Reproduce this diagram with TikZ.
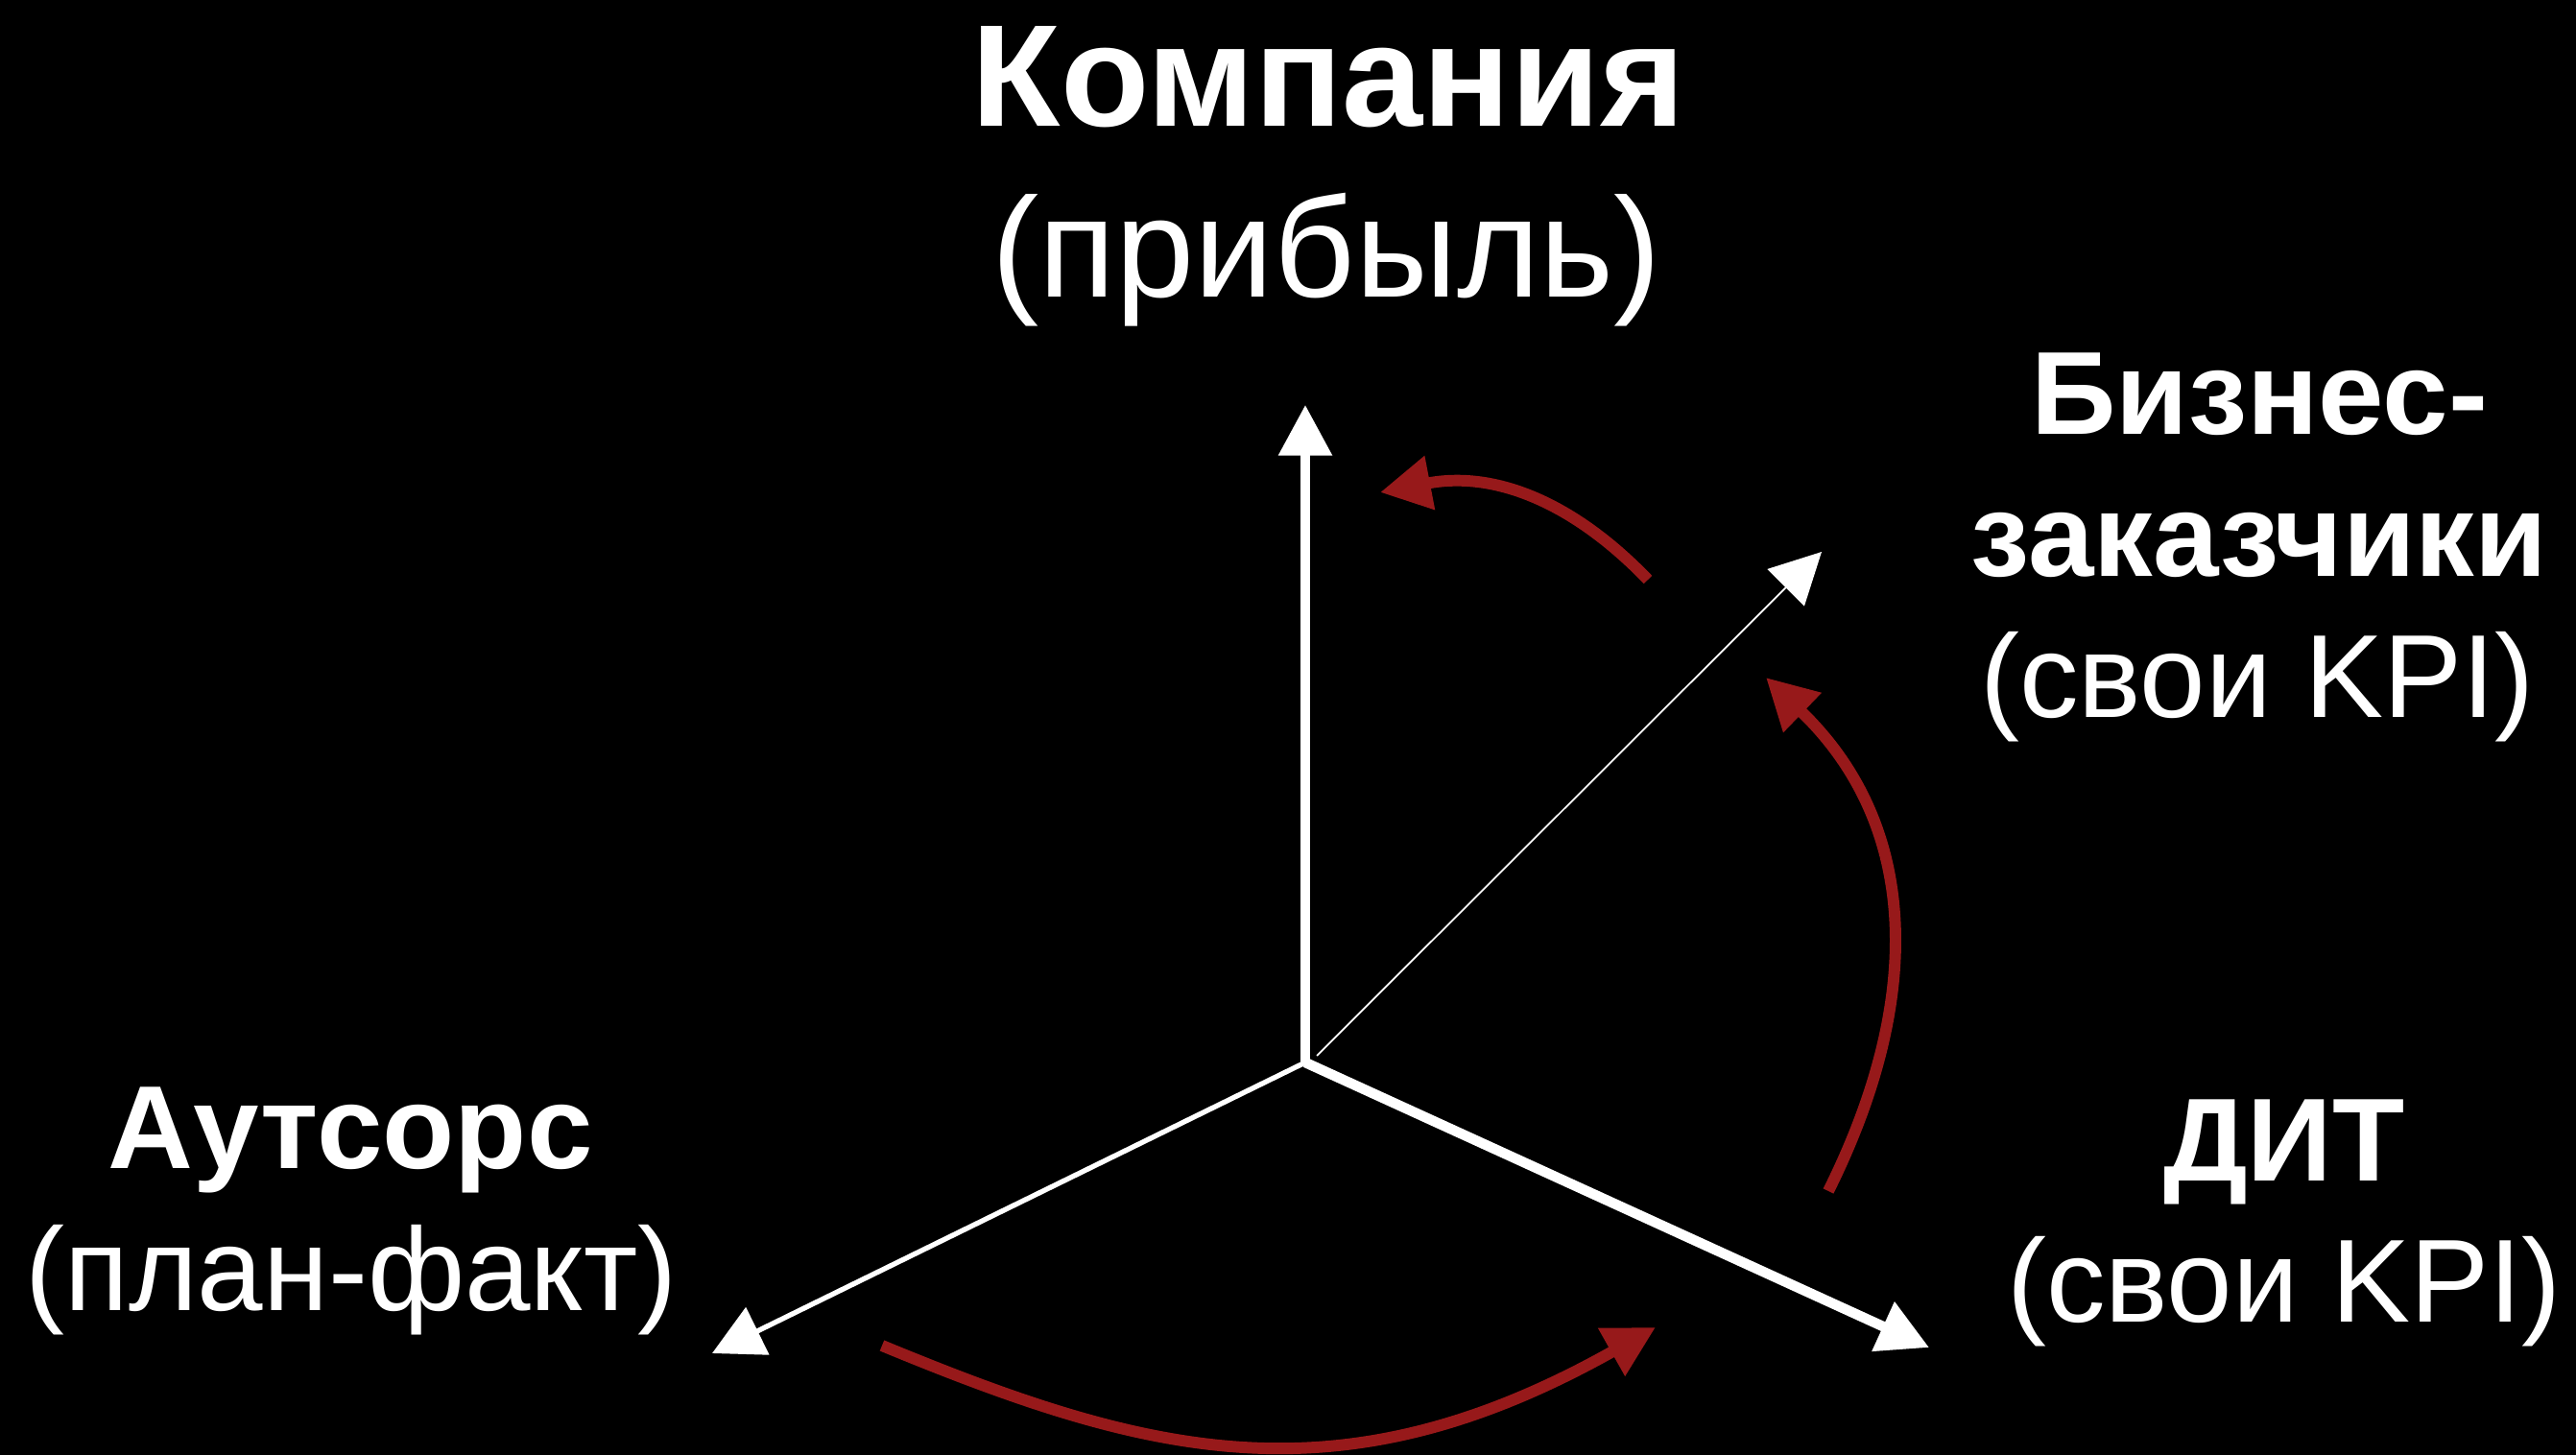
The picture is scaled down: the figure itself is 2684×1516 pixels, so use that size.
\documentclass[tikz,border=0pt]{standalone}
\usepackage{fontspec}
\setmainfont{Liberation Sans}
\usetikzlibrary{arrows.meta}
\definecolor{ArcRed}{RGB}{151, 25, 26}

\begin{document}
\begin{tikzpicture}[
    x=0.01cm, y=-0.01cm,
    >={Triangle[length=15pt, width=15.4pt]},
    head/.style={
        text=white, inner sep=0pt, align=center,
        font=\bfseries\fontsize{35}{42}\selectfont
    },
    bighead/.style={
        text=white, inner sep=0pt,
        font=\bfseries\fontsize{43}{50}\selectfont
    },
    note/.style={
        text=white, inner sep=0pt,
        font=\fontsize{35}{42}\selectfont
    },
    bignote/.style={
        text=white, inner sep=0pt,
        font=\fontsize{42}{50}\selectfont
    },
    axis/.style={->, white},
    turn/.style={->, ArcRed, line width=3.4pt},
]

%% Background
\useasboundingbox (0,0) rectangle (2684,1516);
\fill[black] (0,0) rectangle (2684,1516);

%% Labels
\node[bighead, anchor=base] (company) at (1384,132) {Компания};
\node[bignote, anchor=base] (profit) at (1382,310) {(прибыль)};

\node[head, anchor=south] (business) at (2354,602) {Бизнес-\\заказчики};
\node[note, anchor=base] (bizkpi) at (2352,748) {(свои KPI)};

\node[head, anchor=base] (outsource) at (365,1217) {Аутсорс};
\node[note, anchor=base] (planfact) at (366,1365) {(план-факт)};

\node[head, anchor=base] (dit) at (2380,1230) {ДИТ};
\node[note, anchor=base] (ditkpi) at (2380,1377) {(свои KPI)};

%% Axes
\coordinate (origin) at (1360,1107);
\coordinate (companytip) at (1360,422);
\coordinate (bizfoot) at (1372,1100);
\coordinate (biztip) at (1898,575);
\coordinate (outtip) at (742,1410);
\coordinate (dittip) at (2010,1404);

\draw[axis, line width=2.6pt] (origin) -- (companytip);
\draw[axis, line width=0.5pt] (bizfoot) -- (biztip);
\draw[axis, line width=1.5pt] (origin) -- (outtip);
\draw[axis, line width=3pt] (origin) -- (dittip);

%% Red turns
\coordinate (topstart) at (1717,604);
\coordinate (topend) at (1438,513);
\coordinate (rightstart) at (1905,1241);
\coordinate (rightend) at (1840,706);
\coordinate (lowstart) at (919,1402);
\coordinate (lowend) at (1725,1383);

\draw[turn] (topstart) .. controls (1640,524) and (1558,490) .. (topend);
\draw[turn] (rightstart) .. controls (2005,1040) and (2000,860) .. (rightend);
\draw[turn] (lowstart) .. controls (1195,1516) and (1394,1569) .. (lowend);

\end{tikzpicture}
\end{document}
